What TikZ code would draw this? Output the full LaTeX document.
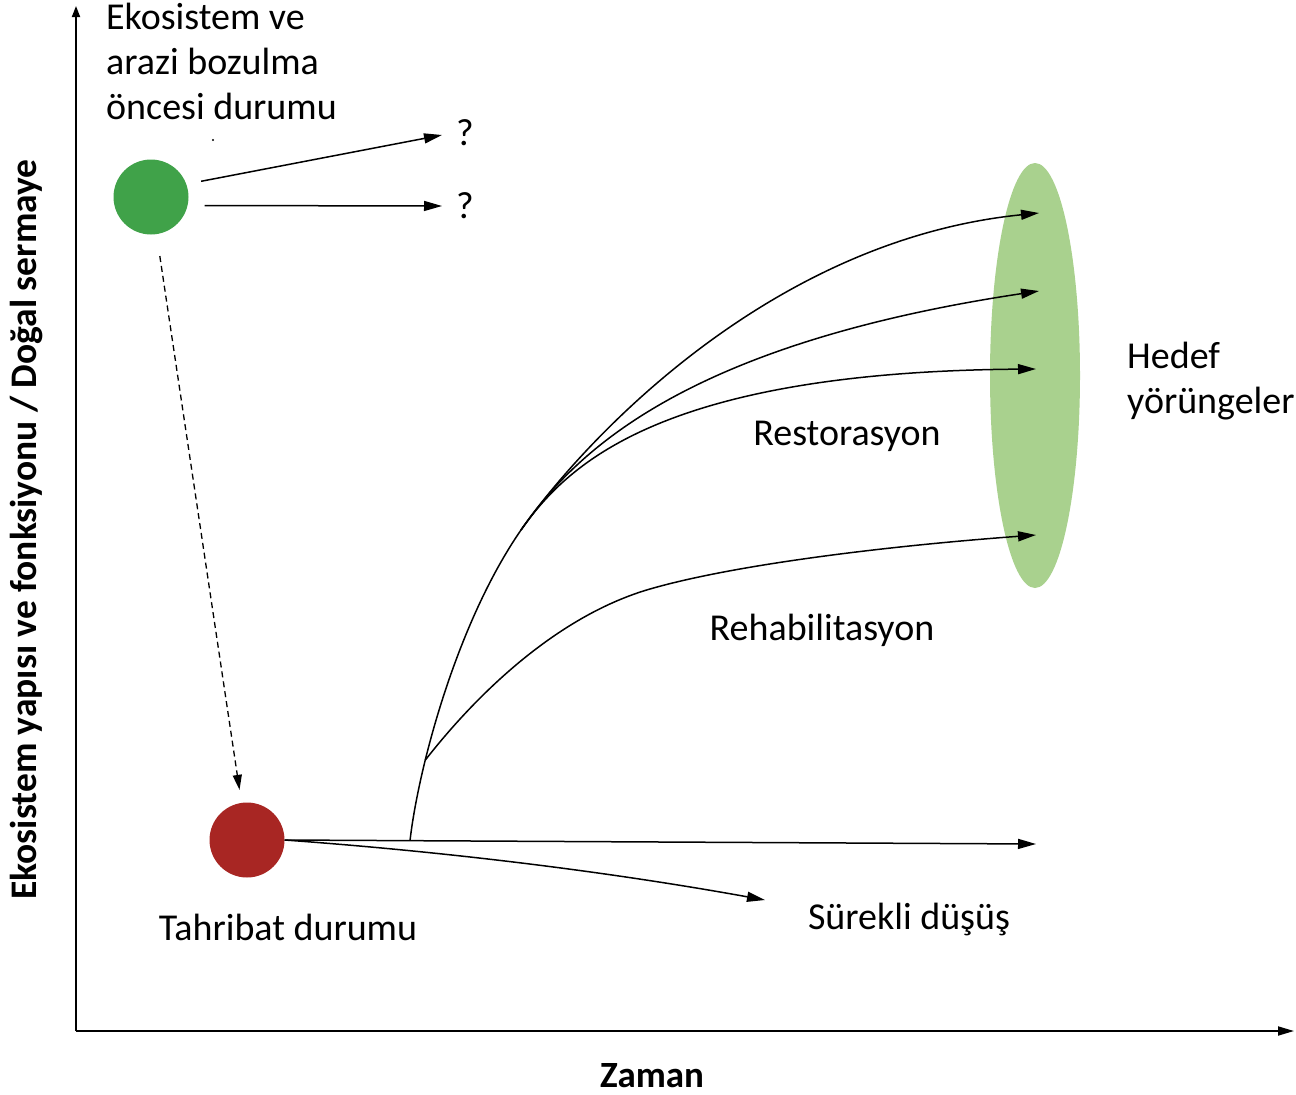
\documentclass[tikz,border=0pt]{standalone}
\usepackage{fontspec}
\setmainfont{Carlito}
\usetikzlibrary{arrows.meta,shapes.geometric}
\definecolor{startgreen}{RGB}{64,162,73}
\definecolor{lossred}{RGB}{168,38,35}
\definecolor{targetgreen}{RGB}{169,209,142}
\begin{document}
\begin{tikzpicture}[x=1pt,y=-1pt,
  lbl/.style={font=\fontsize{38}{45}\selectfont, inner sep=0pt},
  trail/.style={line width=1.5pt, -{Triangle[length=18pt,width=10pt]}},
  axis/.style={line width=1.8pt},
  state/.style={circle, inner sep=0pt, minimum size=75pt}]
\useasboundingbox (0,0) rectangle (1296,1095);

% target zone
\node[ellipse, fill=targetgreen, inner sep=0pt, minimum width=90pt, minimum height=425pt] (goal) at (1035,375.5) {};

% axes
\coordinate (origin) at (76,1031);
\coordinate (ytop) at (76,6);
\coordinate (xend) at (1294,1031);
\draw[axis, -{Triangle[length=11pt,width=8pt]}] (origin) -- (ytop);
\draw[axis, -{Triangle[length=16pt,width=9pt]}] (origin) -- (xend);
\node[lbl, font=\fontsize{37.5}{45}\selectfont\bfseries, rotate=90, anchor=base] (ylab) at (36,529.5) {Ekosistem yapısı ve fonksiyonu / Doğal sermaye};
\node[lbl, font=\fontsize{37}{45}\selectfont\bfseries, anchor=base] (xlab) at (652,1087) {Zaman};

% states
\node[state, fill=startgreen] (g) at (151,197) {};
\node[state, fill=lossred] (r) at (247,840) {};
\node[lbl, align=left, anchor=base west] (gtxt) at (106,119) {Ekosistem ve\\arazi bozulma\\öncesi durumu};
\node[lbl, anchor=base] (rtxt) at (288,940) {Tahribat durumu};
\fill (213,140) circle (1.2pt);

% unknown futures
\node[lbl, anchor=base west] (q1) at (456,145) {?};
\node[lbl, anchor=base west] (q2) at (456,218) {?};
\coordinate (q1tip) at (442,135);
\coordinate (q2tip) at (442,206);
\draw[trail, shorten <=15pt] (g.20) -- (q1tip);
\draw[trail, shorten <=17pt] (g.-13) -- (q2tip);

% degradation
\draw[line width=1.3pt, dash pattern=on 6pt off 4pt, -{Triangle[length=15pt,width=9pt]}, shorten <=22pt, shorten >=13pt] (g) -- (r);

% trajectories after degradation
\coordinate (flat) at (1036,844);
\coordinate (decl) at (765,900);
\coordinate (base) at (410,840.7);
\coordinate (t1) at (1039,213);
\coordinate (t2) at (1039,291);
\coordinate (t3) at (1036,369);
\coordinate (t4) at (1036,535);
\draw[trail] (r.east) -- (flat);
\draw[trail] (r.east) .. controls (450,852) and (610,872) .. (decl);
\draw[line width=1.5pt] (base) .. controls (418,770) and (456,624) .. coordinate[pos=0.3] (fork) (521,530) coordinate (split);
\draw[trail] (split) .. controls (584,440) and (770,240) .. (t1);
\draw[trail] (split) .. controls (573,455) and (680,345) .. (t2);
\draw[trail] (split) .. controls (565,468) and (655,372) .. (t3);
\draw[trail] (fork) .. controls (480,690) and (560,615) .. (650,589) .. controls (740,563) and (900,545) .. (t4);

% labels
\node[lbl, anchor=base] (rest) at (847,445) {Restorasyon};
\node[lbl, anchor=base] (rehab) at (822,640) {Rehabilitasyon};
\node[lbl, anchor=base] (cont) at (909,929) {Sürekli düşüş};
\node[lbl, align=left, anchor=base west] (gtext) at (1127,413) {Hedef\\yörüngeler};
\end{tikzpicture}
\end{document}
